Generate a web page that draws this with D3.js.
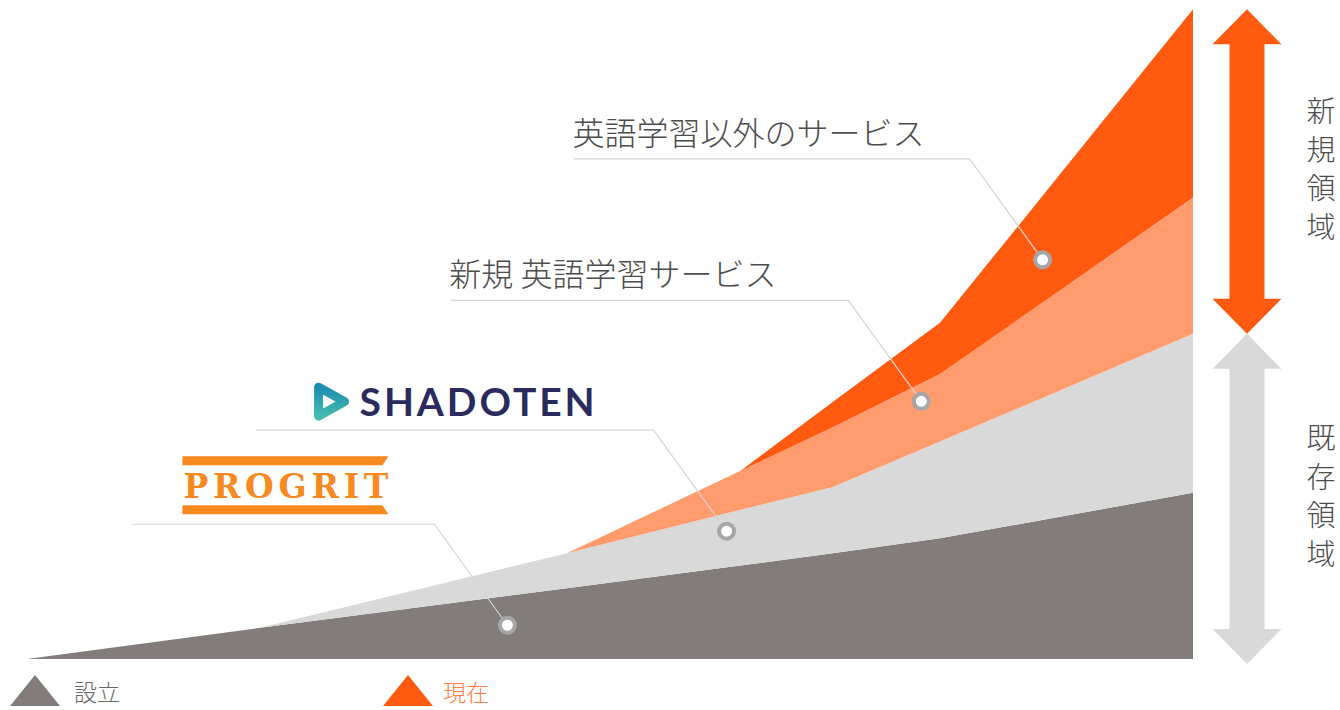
<!DOCTYPE html>
<html><head><meta charset="utf-8">
<script src="https://cdn.jsdelivr.net/npm/d3@7"></script>
<style>
html,body{margin:0;padding:0;background:#fff;}
svg{display:block;}
</style></head>
<body>
<svg id="chart" width="1340" height="710"></svg>
<script>
// ---------- data ----------
const stages = [0, 20, 46.3, 61.2, 69.1, 78.3, 100];
const seriesKeys = ["PROGRIT", "SHADOTEN", "新規 英語学習サービス", "英語学習以外のサービス"];
const progritValues  = [0, 4.8, 10.9, 14.4, 16.3, 18.6, 25.6];
const shadotenValues = [0, 0, 5.4, 8.6, 10.2, 14.9, 24.5];
const newEnglishValues = [0, 0, 0, 6.0, 9.2, 10.4, 21.0];
const otherServiceValues = [0, 0, 0, 0, 3.9, 7.9, 29.0];
// marker anchor points (x stage, y value) for each series' callout
const markerX = [41.2, 60.0, 76.7, 87.1];
const markerY = [5.2, 19.7, 39.7, 61.5];
const legendLabels = ["設立", "現在"];
const regionLabels = ["新規領域", "既存領域"];

// ---------- setup ----------
const svg = d3.select("#chart");
const colors = ["#827c7b", "#d9d9d9", "#ff9b6c", "#ff5a10"];
const x = d3.scaleLinear().domain([0, 100]).range([27, 1193]);
const y = d3.scaleLinear().domain([0, 100]).range([659, 10]);
const JP = "'Noto Sans CJK JP','Noto Sans',sans-serif";

const table = stages.map((s, i) => ({
  stage: s,
  [seriesKeys[0]]: progritValues[i],
  [seriesKeys[1]]: shadotenValues[i],
  [seriesKeys[2]]: newEnglishValues[i],
  [seriesKeys[3]]: otherServiceValues[i]
}));
const stacked = d3.stack().keys(seriesKeys)(table);

const area = d3.area()
  .x(d => x(d.data.stage))
  .y0(d => y(d[0]))
  .y1(d => y(d[1]))
  .curve(d3.curveLinear);

svg.append("g").selectAll("path")
  .data(stacked)
  .join("path")
  .attr("d", area)
  .attr("fill", (d, i) => colors[i]);

// ---------- callouts ----------
const leaderLen = [302, 398, 398, 396];
const callouts = svg.append("g");
seriesKeys.forEach((k, i) => {
  const cx = x(markerX[i]), cy = y(markerY[i]);
  const ex = cx - 73, ey = cy - 101;
  const lx = ex - leaderLen[i];
  callouts.append("path")
    .attr("d", `M${cx},${cy}L${ex},${ey}L${lx},${ey}`)
    .attr("fill", "none").attr("stroke", "#d4d4d4").attr("stroke-width", 1.2);
  callouts.append("circle")
    .attr("cx", cx).attr("cy", cy).attr("r", 7.5)
    .attr("fill", "#fff").attr("stroke", "#a6a6a6").attr("stroke-width", 4);

  if (i >= 2) {
    callouts.append("text")
      .attr("x", lx - 1).attr("y", ey - 14)
      .attr("font-family", JP).attr("font-size", 32).attr("font-weight", 300)
      .attr("fill", "#4d4d4d")
      .text(k);
  } else if (i === 0) {
    // PROGRIT logo
    const g = callouts.append("g").attr("transform", `translate(${lx + 50},${ey - 68})`);
    g.append("path").attr("d", "M0,0H206L200,9H0Z").attr("fill", "#f7891f");
    g.append("path").attr("d", "M0,49H200L206,58H0Z").attr("fill", "#f7891f");
    g.append("text").attr("x", 1).attr("y", 42)
      .attr("font-family", "'DejaVu Serif',serif").attr("font-weight", 700)
      .attr("font-size", 33).attr("fill", "#f7891f")
      .attr("textLength", 205).attr("lengthAdjust", "spacing")
      .text(k);
  } else {
    // SHADOTEN logo
    const defs = svg.append("defs");
    const grad = defs.append("linearGradient").attr("id", "playGrad")
      .attr("x1", 0).attr("y1", 0).attr("x2", 0).attr("y2", 1);
    grad.append("stop").attr("offset", "0%").attr("stop-color", "#1c8cae");
    grad.append("stop").attr("offset", "100%").attr("stop-color", "#45bcb0");
    const g = callouts.append("g").attr("transform", `translate(${lx + 58},${ey - 48})`);
    g.append("path").attr("d", "M5,5L5,34L31,19.5Z")
      .attr("fill", "#fff").attr("stroke", "url(#playGrad)")
      .attr("stroke-width", 9).attr("stroke-linejoin", "round");
    g.append("text").attr("x", 46).attr("y", 34)
      .attr("font-family", "Lato,'Open Sans',sans-serif").attr("font-weight", 700)
      .attr("font-size", 39).attr("fill", "#2b2a5c")
      .attr("textLength", 235).attr("lengthAdjust", "spacing")
      .text(k);
  }
});

// ---------- right-side arrows ----------
const last = stacked[0].length - 1;
const arrowX = 1247, headHalf = 34.5, shaftHalf = 17.5, headH = 35;
function doubleArrow(top, bottom, fill) {
  const p = d3.path();
  p.moveTo(arrowX, top);
  p.lineTo(arrowX + headHalf, top + headH);
  p.lineTo(arrowX + shaftHalf, top + headH);
  p.lineTo(arrowX + shaftHalf, bottom - headH);
  p.lineTo(arrowX + headHalf, bottom - headH);
  p.lineTo(arrowX, bottom);
  p.lineTo(arrowX - headHalf, bottom - headH);
  p.lineTo(arrowX - shaftHalf, bottom - headH);
  p.lineTo(arrowX - shaftHalf, top + headH);
  p.lineTo(arrowX - headHalf, top + headH);
  p.closePath();
  svg.append("path").attr("d", p.toString()).attr("fill", fill);
}
const splitY = y(stacked[1][last][1]);
doubleArrow(y(stacked[3][last][1]), splitY, "#ff5a10");
doubleArrow(splitY, y(0) + 5, "#d9d9d9");

// vertical region labels
const regionBase = [122, 449];
regionLabels.forEach((lab, j) => {
  Array.from(lab).forEach((ch, k) => {
    svg.append("text")
      .attr("x", 1321).attr("y", regionBase[j] + k * 38.6)
      .attr("text-anchor", "middle")
      .attr("font-family", JP).attr("font-size", 29).attr("font-weight", 300)
      .attr("fill", "#4d4d4d")
      .text(ch);
  });
});

// ---------- bottom legend ----------
const legendX = [35, 408];
const legendTextDx = [39, 35];
const legendColors = ["#827c7b", "#ff5a10"];
const legendText = ["#666", "#ff7b3f"];
legendLabels.forEach((lab, i) => {
  const cx = legendX[i];
  svg.append("path")
    .attr("d", `M${cx},675L${cx + 25},706L${cx - 25},706Z`)
    .attr("fill", legendColors[i]);
  svg.append("text")
    .attr("x", cx + legendTextDx[i]).attr("y", 701)
    .attr("font-family", JP).attr("font-size", 23).attr("font-weight", 300)
    .attr("fill", legendText[i])
    .text(lab);
});
</script>
</body></html>
